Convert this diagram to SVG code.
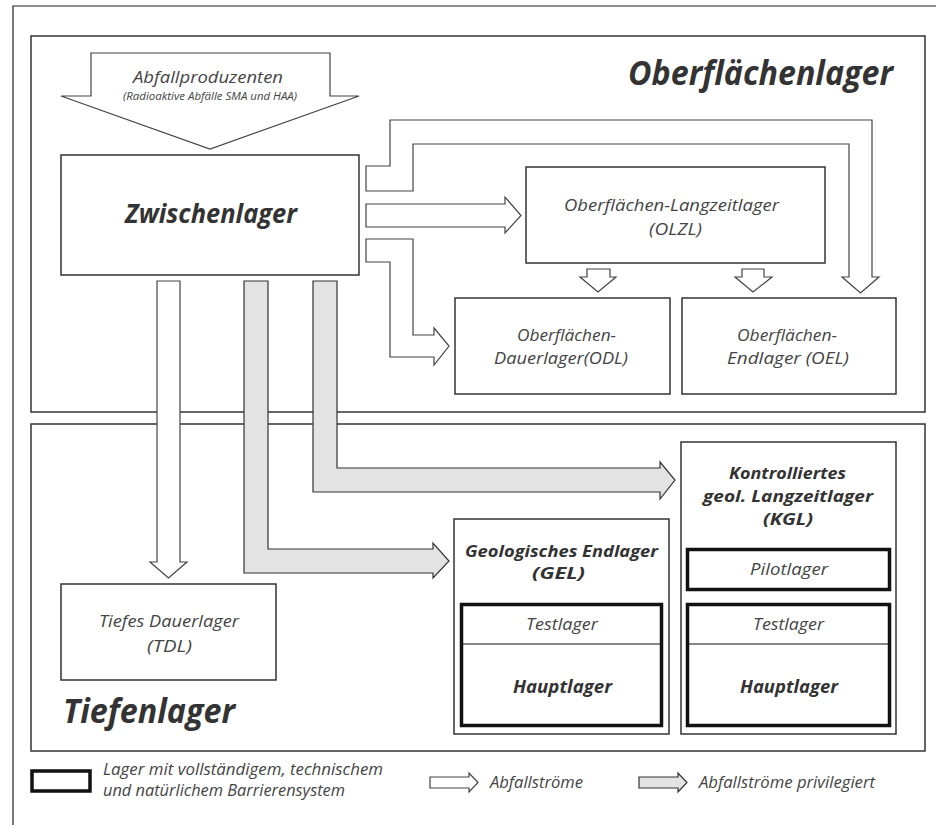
<svg xmlns="http://www.w3.org/2000/svg" width="936" height="825" viewBox="0 0 936 825">
<style>
text{font-family:"Open Sans","Noto Sans","DejaVu Sans",sans-serif;font-style:italic;}
.lbl{fill:#444;font-weight:normal;}
.b{fill:#333;font-weight:bold;}
.box{fill:#fff;stroke:#333;stroke-width:1.5;}
.sec{fill:none;stroke:#333;stroke-width:1.5;}
.thick{fill:#fff;stroke:#111;stroke-width:3.5;}
.wa{fill:#fff;stroke:#444;stroke-width:1.2;stroke-linejoin:miter;}
.ga{fill:#e3e3e3;stroke:#333;stroke-width:1.2;stroke-linejoin:miter;}
.c{text-anchor:middle;}
</style>
<rect width="936" height="825" fill="#fff"/>
<path d="M13,825 V6 H936" fill="none" stroke="#222" stroke-width="1.2"/>
<g id="sections">
<rect class="sec" x="31" y="36" width="894" height="376"/>
<rect class="sec" x="31" y="424" width="894" height="327"/>
<text class="b" x="628" y="85" font-size="34" textLength="265" lengthAdjust="spacingAndGlyphs">Oberflächenlager</text>
<text class="b" x="63" y="723" font-size="34" textLength="172" lengthAdjust="spacingAndGlyphs">Tiefenlager</text>
</g>
<g id="connectors">
<polygon class="wa" points="366,166 390,166 390,120 872,120 872,277 879,277 860.5,293 842,277 849,277 849,144 413,144 413,191 366,191"/>
<polygon class="wa" points="366,204 505,204 505,197 521,215.5 505,233 505,227 366,227"/>
<polygon class="wa" points="366,239 413,239 413,335 434,335 434,328 449,346 434,365 434,357 390,357 390,262 366,262"/>
<polygon class="wa" points="587,269 610,269 610,277 616,277 598,292 580,277 587,277"/>
<polygon class="wa" points="742,269 764,269 764,277 772,277 753,292 735,277 742,277"/>
<polygon class="wa" points="157,281 180,281 180,562 187,562 168.5,578 150,562 157,562"/>
<polygon class="ga" points="244,281 268,281 268,549 433,549 433,543 449,561 433,578 433,573 244,573"/>
<polygon class="ga" points="313,281 337,281 337,468 660,468 660,462 675,480 660,499 660,492 313,492"/>
</g>
<g id="abfallproduzenten">
<polygon class="wa" points="91,53 330,53 330,96 359,96 210,149 61,96 91,96"/>
<text class="lbl c" x="208" y="83" font-size="17" textLength="150" lengthAdjust="spacingAndGlyphs">Abfallproduzenten</text>
<text class="lbl c" x="210" y="100" font-size="10" textLength="174" lengthAdjust="spacingAndGlyphs">(Radioaktive Abfälle SMA und HAA)</text>
</g>
<g id="zwischenlager">
<rect class="box" x="61" y="155" width="298" height="120"/>
<text class="b c" x="211" y="223" font-size="27" textLength="172" lengthAdjust="spacingAndGlyphs">Zwischenlager</text>
</g>
<g id="olzl">
<rect class="box" x="526" y="167" width="299" height="96"/>
<text class="lbl c" x="671.5" y="211" font-size="17" textLength="215" lengthAdjust="spacingAndGlyphs">Oberflächen-Langzeitlager</text>
<text class="lbl c" x="675.5" y="235" font-size="17" textLength="53" lengthAdjust="spacingAndGlyphs">(OLZL)</text>
</g>
<g id="odl">
<rect class="box" x="455" y="298" width="215" height="96"/>
<text class="lbl c" x="566.5" y="341" font-size="16" textLength="99" lengthAdjust="spacingAndGlyphs">Oberflächen-</text>
<text class="lbl c" x="561" y="364" font-size="16" textLength="134" lengthAdjust="spacingAndGlyphs">Dauerlager(ODL)</text>
</g>
<g id="oel">
<rect class="box" x="682" y="298" width="214" height="96"/>
<text class="lbl c" x="787" y="341" font-size="16" textLength="100" lengthAdjust="spacingAndGlyphs">Oberflächen-</text>
<text class="lbl c" x="788" y="364" font-size="16" textLength="122" lengthAdjust="spacingAndGlyphs">Endlager (OEL)</text>
</g>
<g id="tdl">
<rect class="box" x="61" y="584" width="215" height="96"/>
<text class="lbl c" x="169" y="627" font-size="17" textLength="140" lengthAdjust="spacingAndGlyphs">Tiefes Dauerlager</text>
<text class="lbl c" x="169.5" y="652" font-size="17" textLength="45" lengthAdjust="spacingAndGlyphs">(TDL)</text>
</g>
<g id="gel">
<rect class="box" x="454" y="519" width="215" height="215"/>
<text class="b c" x="561.5" y="557" font-size="16" textLength="193" lengthAdjust="spacingAndGlyphs">Geologisches Endlager</text>
<text class="b c" x="558.5" y="579" font-size="16" textLength="53" lengthAdjust="spacingAndGlyphs">(GEL)</text>
<rect class="thick" x="461.5" y="604.5" width="200" height="121"/>
<line x1="463" y1="644" x2="660" y2="644" stroke="#111" stroke-width="1.2"/>
<text class="lbl c" x="562" y="630" font-size="17" textLength="72" lengthAdjust="spacingAndGlyphs">Testlager</text>
<text class="b c" x="562.5" y="693" font-size="18" textLength="99" lengthAdjust="spacingAndGlyphs">Hauptlager</text>
</g>
<g id="kgl">
<rect class="box" x="681" y="442" width="215" height="292"/>
<text class="b c" x="787.5" y="479" font-size="16" textLength="117" lengthAdjust="spacingAndGlyphs">Kontrolliertes</text>
<text class="b c" x="788" y="502" font-size="16" textLength="170" lengthAdjust="spacingAndGlyphs">geol. Langzeitlager</text>
<text class="b c" x="788" y="525" font-size="16" textLength="50" lengthAdjust="spacingAndGlyphs">(KGL)</text>
<rect class="thick" x="687.5" y="549.5" width="202" height="40"/>
<text class="lbl c" x="789" y="575" font-size="17" textLength="78" lengthAdjust="spacingAndGlyphs">Pilotlager</text>
<rect class="thick" x="687.5" y="604.5" width="202" height="121"/>
<line x1="689" y1="644" x2="888" y2="644" stroke="#111" stroke-width="1.2"/>
<text class="lbl c" x="788.5" y="630" font-size="17" textLength="71" lengthAdjust="spacingAndGlyphs">Testlager</text>
<text class="b c" x="789" y="693" font-size="18" textLength="98" lengthAdjust="spacingAndGlyphs">Hauptlager</text>
</g>
<g id="legend">
<rect class="thick" x="32" y="771" width="58" height="20" stroke-width="4"/>
<text class="lbl" x="103" y="775" font-size="16" textLength="280" lengthAdjust="spacingAndGlyphs">Lager mit vollständigem, technischem</text>
<text class="lbl" x="103" y="796" font-size="16" textLength="242" lengthAdjust="spacingAndGlyphs">und natürlichem Barrierensystem</text>
<polygon class="wa" points="430,777 469,777 469,773 478,782.5 469,792 469,788 430,788"/>
<text class="lbl" x="490" y="788" font-size="17" textLength="93" lengthAdjust="spacingAndGlyphs">Abfallströme</text>
<polygon class="ga" points="639,777 678,777 678,773 687,782.5 678,792 678,788 639,788"/>
<text class="lbl" x="699" y="788" font-size="17" textLength="176" lengthAdjust="spacingAndGlyphs">Abfallströme privilegiert</text>
</g>
</svg>
